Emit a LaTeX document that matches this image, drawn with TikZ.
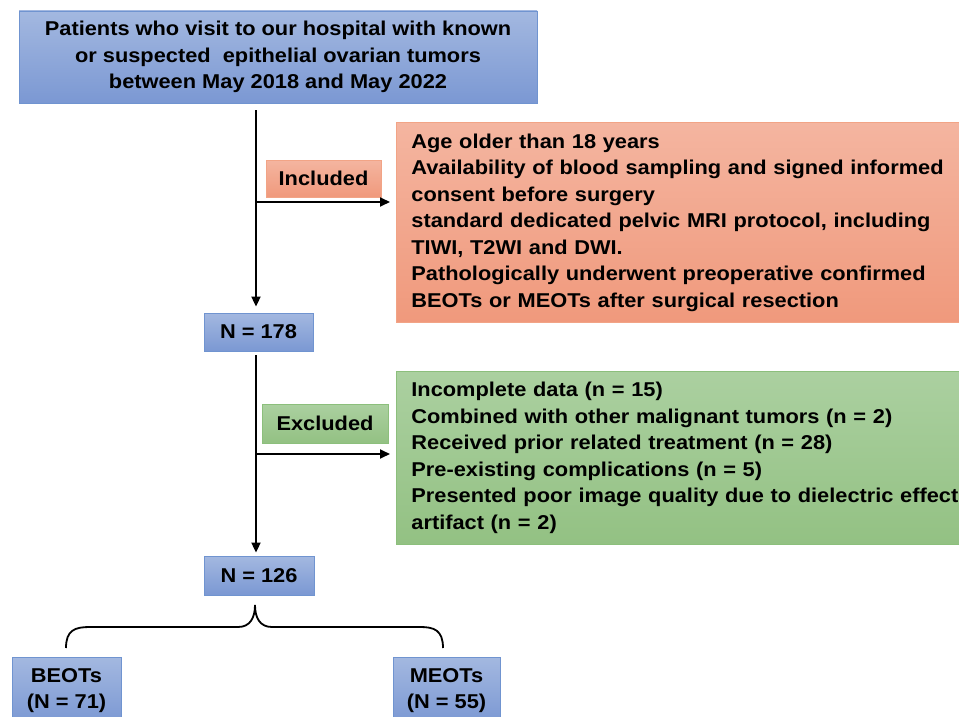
\documentclass[tikz,border=0pt]{standalone}
\usepackage{fontspec}
\setmainfont{Liberation Sans}[FakeStretch=1.09]
\usetikzlibrary{arrows.meta}
\definecolor{bluetop}{HTML}{A3B8E0}
\definecolor{bluebot}{HTML}{7B98D3}
\definecolor{bluedge}{HTML}{7094D0}
\definecolor{ortop}{HTML}{F4B5A0}
\definecolor{orbot}{HTML}{F0997C}
\definecolor{oredge}{HTML}{F2A486}
\definecolor{grtop}{HTML}{ABD0A0}
\definecolor{grbot}{HTML}{93C183}
\definecolor{gredge}{HTML}{8CBF7C}
\begin{document}
\begin{tikzpicture}[x=1pt,y=-1pt,
  font=\bfseries\fontsize{20}{26.5}\selectfont,
  boxbase/.style={line width=0.8pt, inner sep=0pt, align=center},
  bluebox/.style={boxbase, draw=bluedge, top color=bluetop, bottom color=bluebot},
  orbox/.style={boxbase, draw=oredge, top color=ortop, bottom color=orbot},
  grbox/.style={boxbase, draw=gredge, top color=grtop, bottom color=grbot},
  listbox/.style={align=left, inner xsep=12pt, text width=560pt, anchor=north west},
  flow/.style={line width=1.8pt, -{Triangle[length=10pt,width=9pt]}},
  bracepath/.style={line width=1.8pt}]
\useasboundingbox (0,0) rectangle (959,717);
\clip (0,0) rectangle (959,717);

\node[bluebox, minimum width=518pt, minimum height=92pt] (top) at (278,57)
  {Patients who visit to our hospital with known\\or suspected\ \ epithelial ovarian tumors\\between May 2018 and May 2022};

\node[bluebox, minimum width=109pt, minimum height=38pt] (n178) at (258.5,332) {N = 178};
\node[bluebox, minimum width=110pt, minimum height=39pt] (n126) at (259,575.5) {N = 126};

\node[orbox, minimum width=115pt, minimum height=37pt] (inc) at (323.5,178.5) {Included};
\node[grbox, minimum width=126pt, minimum height=39pt] (exc) at (325,423.5) {Excluded};

\node[orbox, listbox, minimum width=590pt, minimum height=200pt] (incbox) at (396,122)
  {Age older than 18 years\\
   Availability of blood sampling and signed informed\\
   consent before surgery\\
   standard dedicated pelvic MRI protocol, including\\
   TIWI, T2WI and DWI.\\
   Pathologically underwent preoperative confirmed\\
   BEOTs or MEOTs after surgical resection};

\node[grbox, listbox, minimum width=590pt, minimum height=173pt] (excbox) at (396,371)
  {Incomplete data (n = 15)\\
   Combined with other malignant tumors (n = 2)\\
   Received prior related treatment (n = 28)\\
   Pre-existing complications (n = 5)\\
   Presented poor image quality due to dielectric effect\\
   artifact (n = 2)};

\node[bluebox, anchor=north, minimum width=109pt, minimum height=66pt] (beots) at (66.5,657) {BEOTs\\(N = 71)};
\node[bluebox, anchor=north, minimum width=107pt, minimum height=66pt] (meots) at (446.5,657) {MEOTs\\(N = 55)};

% main flow
\coordinate (v) at (256,0);
\draw[flow] ([yshift=-7pt]top.south -| v) -- ([yshift=6pt]n178.north -| v);
\draw[flow] ([yshift=-4pt]n178.south -| v) -- ([yshift=3pt]n126.north -| v);

% side arrows
\coordinate (i1) at (256,202);
\coordinate (e1) at (256,454);
\draw[flow] (i1) -- ([xshift=-6pt]incbox.west |- i1);
\draw[flow] (e1) -- ([xshift=-6pt]excbox.west |- e1);

% brace
\coordinate (btip) at (255,605);
\coordinate (bl) at (66,648);
\coordinate (br) at (443,648);
\draw[bracepath] (bl) .. controls (66,630) and (75,627) .. (90,627) -- (238,627)
  .. controls (250,627) and (255,618) .. (btip)
  .. controls (255,618) and (260,627) .. (272,627) -- (420,627)
  .. controls (434,627) and (443,630) .. (br);
\end{tikzpicture}
\end{document}
